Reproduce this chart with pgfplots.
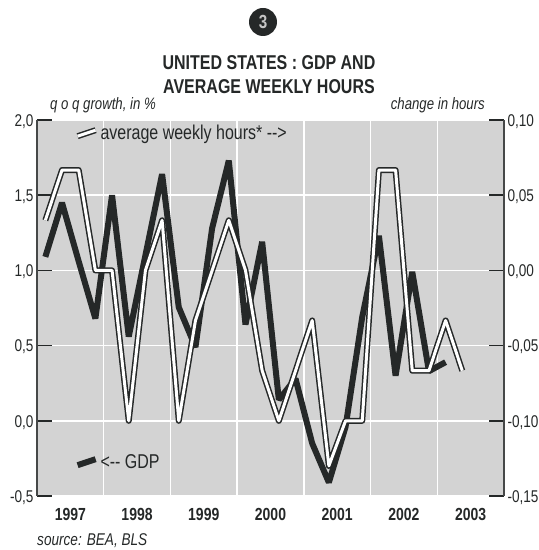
\documentclass[border=0pt]{standalone}
\usepackage{fontspec}
\setmainfont{Liberation Sans}[FakeStretch=0.8]
\usepackage{pgfplots}
\usepackage{pgfplotstable}
\pgfplotsset{compat=1.18}

\definecolor{bggray}{RGB}{211,211,211}
\definecolor{ink}{RGB}{37,40,40}
\definecolor{axisgray}{RGB}{70,72,72}

% quarterly data, 1997Q1 = 0
\pgfplotstableread{
q gdp
0  1.09
1  1.45
2  1.06
3  0.68
4  1.50
5  0.56
6  1.10
7  1.64
8  0.755
9  0.49
10 1.28
11 1.73
12 0.64
13 1.19
14 0.14
15 0.28
16 -0.15
17 -0.41
18 -0.04
19 0.69
20 1.23
21 0.30
22 0.99
23 0.33
24 0.39
}\gdpdata

\pgfplotstableread{
q hours
0  0.0333
1  0.0667
2  0.0667
3  0.0
4  0.0
5  -0.1
6  0.0
7  0.0333
8  -0.1
9  -0.0333
10 0.0
11 0.0333
12 0.0
13 -0.0667
14 -0.1
15 -0.0667
16 -0.0333
17 -0.13
18 -0.1
19 -0.1
20 0.0667
21 0.0667
22 -0.0667
23 -0.0667
24 -0.0333
25 -0.0667
}\hoursdata

\begin{document}
\begin{tikzpicture}
\path[use as bounding box] (0,0) rectangle (539pt,550pt);

\pgfplotsset{
  chart/.style={
    at={(37pt,54pt)}, anchor=south west,
    scale only axis, width=467pt, height=376pt,
    xmin=-0.5, xmax=27.5,
    /pgf/number format/assume math mode=true,
    /pgf/number format/use comma,
    /pgf/number format/fixed,
    /pgf/number format/fixed zerofill,
    tick align=inside,
    major tick length=15pt,
    minor tick length=0pt,
    ytick style={draw=ink, line width=1.5pt},
    yticklabel style={font=\fontsize{17}{18}\selectfont, text=ink, yshift=-1.5pt},
    axis line style={draw=axisgray, line width=1.5pt, -},
    legend style={draw=none, fill=none, inner sep=0pt,
      font=\fontsize{20}{21}\selectfont, text=ink,
      cells={anchor=west}},
    legend image code/.code={\draw[#1] (0pt,-3pt) -- (18pt,3pt);},
  }
}

\begin{axis}[chart,
  axis background/.style={fill=bggray},
  axis y line*=left, axis x line*=bottom,
  x axis line style={draw=none},
  ymin=-0.5, ymax=2, ytick={-0.5,0,0.5,1,1.5,2},
  yticklabel style={/pgf/number format/precision=1},
  xtick={1.5,5.5,9.5,13.5,17.5,21.5,25.5},
  xticklabels={1997,1998,1999,2000,2001,2002,2003},
  xtick style={draw=none},
  xticklabel style={font=\bfseries\fontsize{17.5}{18}\selectfont, text=ink, yshift=-8.5pt},
  minor xtick={3.5,7.5,11.5,15.5,19.5,23.5},
  xminorgrids, ymajorgrids,
  major grid style={white, line width=1.5pt},
  minor grid style={white, line width=1.5pt},
  legend style={at={(rel axis cs:0.08,0.090)}, anchor=west},
]
\addplot[ink, line width=6pt, line join=bevel] table[x=q, y=gdp] {\gdpdata};
\addlegendentry{<-{}- GDP}
\end{axis}

\begin{axis}[chart,
  axis y line*=right, axis x line=none,
  ymin=-0.15, ymax=0.10, ytick={-0.15,-0.10,-0.05,0,0.05,0.10},
  yticklabel style={/pgf/number format/precision=2},
  legend style={at={(rel axis cs:0.08,0.965)}, anchor=west},
]
\addplot[ink, line width=1.5pt, double=white, double distance=3pt, line join=round] table[x=q, y=hours] {\hoursdata};
\addlegendentry{average weekly hours* -{}->}
\end{axis}

% header and notes
\fill[ink] (263pt,528pt) circle (14pt);
\node[text=gray!45, font=\bfseries\fontsize{19}{19}\selectfont] at (263pt,528pt) {3};
\node[font=\bfseries\fontsize{20}{22}\selectfont, text=ink] at (269pt,487pt) {UNITED STATES : GDP AND};
\node[font=\bfseries\fontsize{20}{22}\selectfont, text=ink] at (269pt,463pt) {AVERAGE WEEKLY HOURS};
\node[anchor=west, inner sep=0pt, font=\itshape\fontsize{16.5}{17}\selectfont, text=ink] at (50pt,445pt) {q o q growth, in \%};
\node[anchor=east, inner sep=0pt, font=\itshape\fontsize{16.5}{17}\selectfont, text=ink] at (485pt,445pt) {change in hours};
\node[anchor=west, inner sep=0pt, font=\itshape\fontsize{17}{18}\selectfont, text=ink] at (37pt,9pt) {source: BEA, BLS};
\end{tikzpicture}
\end{document}
